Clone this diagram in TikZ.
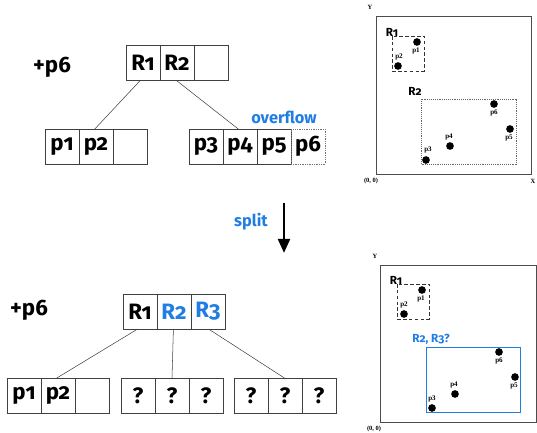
\documentclass[tikz,border=0pt]{standalone}
\usepackage{fontspec}
\setmainfont{Fira Sans}[Numbers=OldStyle]
\newfontfamily\plotfont{Liberation Serif}
\usepackage{tikz}
\usetikzlibrary{positioning, calc, arrows.meta}
\definecolor{splitblue}{HTML}{1F7DE3}

\tikzset{
  cell/.style={draw=black!75, line width=0.5pt, minimum width=10.2mm, minimum height=10.5mm,
    inner sep=0pt, outer sep=0pt, font=\fontsize{19}{22}\selectfont\bfseries},
  ghostcell/.style={cell, draw=black!55, densely dotted},
  link/.style={draw=black!75, line width=0.45pt},
  pt/.style={fill=black},
  ptlabel/.style={font=\plotfont\bfseries\fontsize{6}{7}\selectfont, inner sep=0pt},
  axislabel/.style={font=\plotfont\bfseries\fontsize{5.5}{6}\selectfont, inner sep=0pt},
  mbrlabel/.style={font=\bfseries\fontsize{10}{12}\selectfont, inner sep=0pt},
  note/.style={font=\fontsize{14}{16}\selectfont\bfseries, text=splitblue, inner sep=0pt},
}

\begin{document}
\begin{tikzpicture}[x=0.3mm, y=-0.3mm]
  \useasboundingbox (0,0) rectangle (537,432);

  % ---- before the split ----
  \node[font=\fontsize{19}{22}\selectfont\bfseries] (addtop) at (52,67) {+p6};
  \node[cell, anchor=north west] (ta1) at (126,45) {R1};
  \node[cell, right=0pt of ta1] (ta2) {R2};
  \node[cell, right=0pt of ta2] (ta3) {};

  \node[cell, anchor=north west] (tl1) at (45,129) {p1};
  \node[cell, right=0pt of tl1] (tl2) {p2};
  \node[cell, right=0pt of tl2] (tl3) {};

  \node[cell, anchor=north west] (tr1) at (189,129) {p3};
  \node[cell, right=0pt of tr1] (tr2) {p4};
  \node[cell, right=0pt of tr2] (tr3) {p5};
  \node[ghostcell, right=0pt of tr3] (tr4) {p6};
  \node[note] (ovf) at (284,117) {overflow};

  \draw[link] ([xshift=-2pt]ta1.south) -- ([xshift=-1pt]tl2.north);
  \draw[link] ([xshift=-1pt]ta2.south) -- ([xshift=-1.5pt]tr2.north);

  % split arrow
  \coordinate (splittop) at (284,203);
  \coordinate (splitbot) at (284,253);
  \draw[line width=2.4pt, -{Triangle[length=12pt, width=10pt]}] (splittop) -- (splitbot);
  \node[note] (splitlbl) at (251,222) {split};

  % ---- after the split ----
  \node[font=\fontsize{19}{22}\selectfont\bfseries] (addbot) at (29,310) {+p6};
  \node[cell, anchor=north west] (ba1) at (123,294) {R1};
  \node[cell, right=0pt of ba1, text=splitblue] (ba2) {R2};
  \node[cell, right=0pt of ba2, text=splitblue] (ba3) {R3};

  \node[cell, anchor=north west] (bl1) at (7,378) {p1};
  \node[cell, right=0pt of bl1] (bl2) {p2};
  \node[cell, right=0pt of bl2] (bl3) {};

  \node[cell, anchor=north west] (bm1) at (121,378) {?};
  \node[cell, right=0pt of bm1] (bm2) {?};
  \node[cell, right=0pt of bm2] (bm3) {?};

  \node[cell, anchor=north west] (br1) at (234,378) {?};
  \node[cell, right=0pt of br1] (br2) {?};
  \node[cell, right=0pt of br2] (br3) {?};

  \draw[link] ([xshift=-2pt]ba1.south) -- ([xshift=-1pt]bl2.north);
  \draw[link] ([xshift=-0.5pt]ba2.south) -- (bm2.north);
  \draw[link] ([xshift=0.5pt]ba3.south) -- ([xshift=-0.5pt]br2.north);

  % ---- space, before ----
  \draw[black!70, line width=0.5pt] (376,16) rectangle (531,174);
  \node[axislabel] (ty) at (370,7) {Y};
  \node[axislabel] (tx) at (533,181) {X};
  \node[axislabel] (to) at (371,181) {(0, 0)};
  \draw[black!80, densely dashed, line width=0.5pt] (392,36) rectangle (424,71);
  \node[mbrlabel] (tr1lbl) at (392,32) {R1};
  \draw[black!60, densely dotted, line width=0.6pt] (421,99) rectangle (516,164);
  \node[mbrlabel] (tr2lbl) at (415,91) {R2};
  \fill[pt] (417,42) circle[radius=1.15mm]; \node[ptlabel] at (416,51) {p1};
  \fill[pt] (398,66) circle[radius=1.15mm]; \node[ptlabel] at (399,57) {p2};
  \fill[pt] (426,160) circle[radius=1.15mm]; \node[ptlabel] at (428,150) {p3};
  \fill[pt] (450,146) circle[radius=1.15mm]; \node[ptlabel] at (449,137) {p4};
  \fill[pt] (510,129) circle[radius=1.15mm]; \node[ptlabel] at (509,138) {p5};
  \fill[pt] (494,104) circle[radius=1.15mm]; \node[ptlabel] at (494,113) {p6};

  % ---- space, after ----
  \draw[black!70, line width=0.5pt] (380,265) rectangle (536.5,422);
  \node[axislabel] (by) at (375,256) {Y};
  \node[axislabel] (bo) at (374,429) {(0, 0)};
  \draw[black!80, densely dashed, line width=0.5pt] (397,284) rectangle (429,319);
  \node[mbrlabel] (br1lbl) at (396,280) {R1};
  \draw[splitblue, line width=0.6pt] (426,347) rectangle (520,412);
  \node[mbrlabel, text=splitblue] (bnew) at (431,339) {R2, R3?};
  \fill[pt] (422,290) circle[radius=1.15mm]; \node[ptlabel] at (421,299) {p1};
  \fill[pt] (404,314) circle[radius=1.15mm]; \node[ptlabel] at (404,305) {p2};
  \fill[pt] (432,408) circle[radius=1.15mm]; \node[ptlabel] at (432,399) {p3};
  \fill[pt] (455,394) circle[radius=1.15mm]; \node[ptlabel] at (454,385) {p4};
  \fill[pt] (515,377) circle[radius=1.15mm]; \node[ptlabel] at (514,386) {p5};
  \fill[pt] (499,352) circle[radius=1.15mm]; \node[ptlabel] at (499,361) {p6};
\end{tikzpicture}
\end{document}
